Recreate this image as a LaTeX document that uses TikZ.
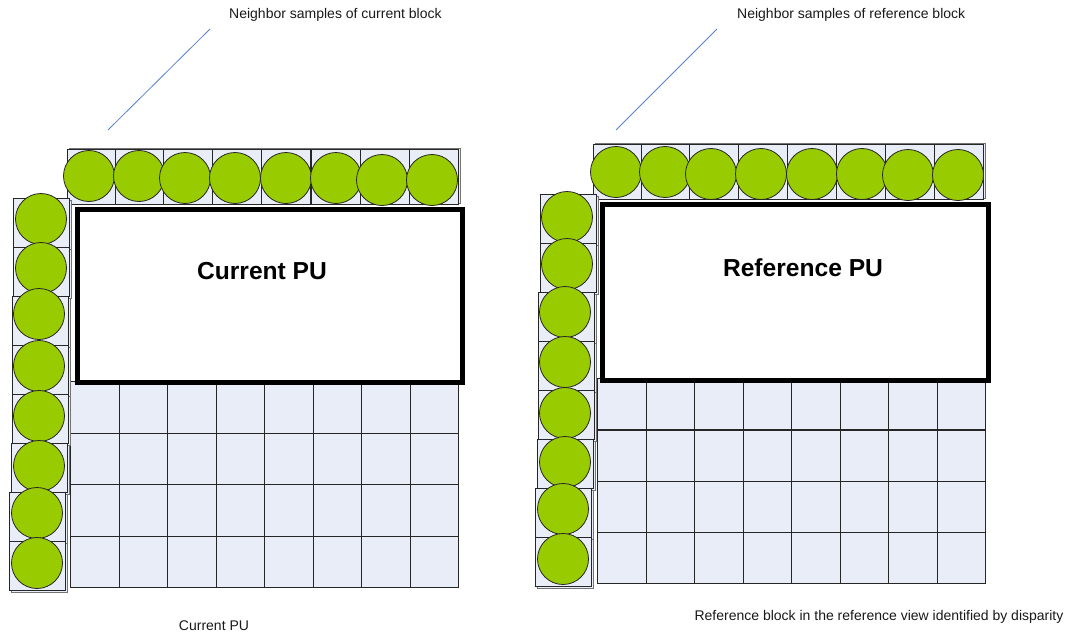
\documentclass[tikz,border=0pt]{standalone}
\usepackage{fontspec}
\setmainfont{Liberation Sans}
\definecolor{cellfill}{RGB}{232,237,247}
\definecolor{samplegreen}{RGB}{153,204,0}
\definecolor{leader}{RGB}{85,130,200}
\definecolor{txt}{RGB}{25,25,25}
\begin{document}
\begin{tikzpicture}[x=1pt,y=-1pt,
  cell/.style={draw=black!85, fill=cellfill, line width=0.9pt, inner sep=0pt, anchor=north west},
  shade/.style={draw=black!55, fill=cellfill, line width=0.8pt, inner sep=0pt, anchor=north west},
  gcell/.style={draw=black!85, fill=cellfill, line width=1.3pt, inner sep=0pt, anchor=north west,
                minimum width=48.5pt, minimum height=51.5pt},
  sample/.style={circle, draw=black!85, fill=samplegreen, minimum size=51pt, inner sep=0pt, line width=0.8pt},
  pu/.style={draw=black, line width=4.5pt, inner sep=0pt, anchor=north west},
  pulabel/.style={font=\bfseries\fontsize{24.6}{28}\selectfont, text=black, inner sep=0pt},
  caption/.style={font=\fontsize{14}{16}\selectfont, text=txt, inner sep=0pt},
  lead/.style={draw=leader, line width=0.8pt}]
\useasboundingbox (0,0) rectangle (1067,634);

% ================= LEFT PANEL (current block) =================
\foreach \r in {0,...,3}{
  \foreach \c in {0,...,7}{
    \node[gcell] (cg-\r-\c) at ({70+48.5*\c},{381+51.5*\r}) {};
  }
}
\foreach \x [count=\i] in {67,115,163,212,261,311,360,409}{
  \node[shade, minimum width=49pt, minimum height=55pt] (cts\i) at ({\x+1.5},147.5) {};
  \node[cell, minimum width=49pt, minimum height=55pt] (ct\i) at (\x,149) {};
}
\foreach \y/\x [count=\i] in {198/13,247/13,296/12,345/12,394/12,443/11,492/9,541/9}{
  \node[shade, minimum width=56pt, minimum height=49pt] (cls\i) at ({\x+2},{\y+2}) {};
  \node[cell, minimum width=56pt, minimum height=49pt] (cl\i) at (\x,\y) {};
}
\node[pu, fill=white, minimum width=385pt, minimum height=173pt] (cur) at (75,207) {};
\node[pulabel] (curlbl) at (262,271) {Current PU};
\foreach \x/\y [count=\i] in {89/176,139/176,185/178,235/178,286/178,336/178,382/180,432/180}{
  \node[sample] (cts-\i) at (\x,\y) {};
}
\foreach \x/\y [count=\i] in {41/219,41/268,39/314,39/366,39/416,39/466,37/513,37/563}{
  \node[sample] (cls-\i) at (\x,\y) {};
}
\node[caption, anchor=west] (curtop) at (229,15) {Neighbor samples of current block};
\coordinate (ca1) at (210,29);
\coordinate (ca2) at (108,130);
\draw[lead] (ca1) -- (ca2);
\node[caption] (curcap) at (214,626) {Current PU};

% ================= RIGHT PANEL (reference block) =================
\foreach \r in {0,...,3}{
  \foreach \c in {0,...,7}{
    \node[gcell, minimum height=51.25pt] (rg-\r-\c) at ({597+48.5*\c},{378+51.25*\r}) {};
  }
}
\foreach \x [count=\i] in {593,641,689,738,787,836,885,934}{
  \node[shade, minimum width=49pt, minimum height=55pt] (rts\i) at ({\x+1.5},143) {};
  \node[cell, minimum width=49pt, minimum height=55pt] (rt\i) at (\x,144) {};
}
\foreach \y/\x [count=\i] in {194/540,243/540,292/538,341/538,390/538,439/537,488/535,537/535}{
  \node[shade, minimum width=56pt, minimum height=49pt] (rls\i) at ({\x+2},{\y+2}) {};
  \node[cell, minimum width=56pt, minimum height=49pt] (rl\i) at (\x,\y) {};
}
\node[pu, fill=white, minimum width=386pt, minimum height=176pt] (ref) at (600,202) {};
\node[pulabel] (reflbl) at (803,268) {Reference PU};
\foreach \x/\y [count=\i] in {616/172,665/172,711/174,761/174,812/174,862/174,908/175,958/175}{
  \node[sample] (rts-\i) at (\x,\y) {};
}
\foreach \x/\y [count=\i] in {567/217,567/264,565/312,565/362,565/413,565/462,563/509,563/559}{
  \node[sample] (rls-\i) at (\x,\y) {};
}
\node[caption, anchor=west] (reftop) at (737,15) {Neighbor samples of reference block};
\coordinate (ra1) at (717,29);
\coordinate (ra2) at (616,130);
\draw[lead] (ra1) -- (ra2);
\node[caption] (refcap) at (879,617) {Reference block in the reference view identified by disparity};
\end{tikzpicture}
\end{document}
